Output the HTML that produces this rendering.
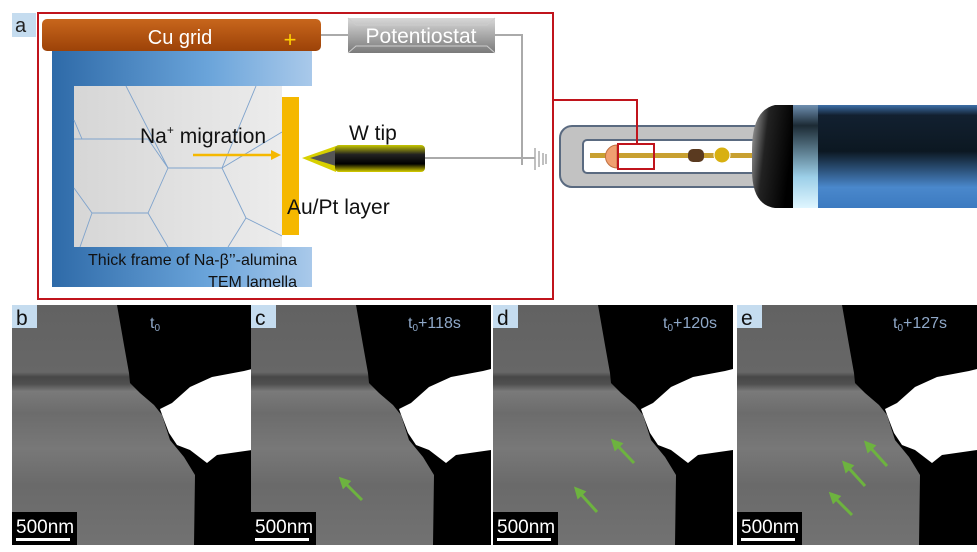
<!DOCTYPE html>
<html><head><meta charset="utf-8"><style>
html,body{margin:0;padding:0;background:#fff;}
svg{display:block;font-family:"Liberation Sans",sans-serif;}
</style></head><body>
<svg width="977" height="552" viewBox="0 0 977 552" xmlns="http://www.w3.org/2000/svg">
<defs>
<linearGradient id="cu" x1="0" y1="0" x2="0" y2="1"><stop offset="0" stop-color="#c8661c"/><stop offset="1" stop-color="#9c4208"/></linearGradient>
<linearGradient id="pot" x1="0" y1="0" x2="0" y2="1"><stop offset="0" stop-color="#d8d8d8"/><stop offset="0.5" stop-color="#a8a8a8"/><stop offset="1" stop-color="#7a7a7a"/></linearGradient>
<linearGradient id="blue" x1="0" y1="0" x2="1" y2="0"><stop offset="0" stop-color="#2e6aa8"/><stop offset="0.6" stop-color="#6aa4da"/><stop offset="1" stop-color="#a9c9ea"/></linearGradient>
<linearGradient id="gray" x1="0" y1="0" x2="1" y2="0"><stop offset="0" stop-color="#d6d6d6"/><stop offset="1" stop-color="#ececec"/></linearGradient>
<linearGradient id="wt" x1="0" y1="0" x2="0" y2="1"><stop offset="0" stop-color="#c8c800"/><stop offset="0.35" stop-color="#222"/><stop offset="0.7" stop-color="#000"/><stop offset="1" stop-color="#d8d000"/></linearGradient>
<linearGradient id="cap" x1="0" y1="0" x2="1" y2="0.3"><stop offset="0" stop-color="#aaa"/><stop offset="0.4" stop-color="#222"/><stop offset="1" stop-color="#000"/></linearGradient>
<linearGradient id="cyl" x1="0" y1="0" x2="0" y2="1"><stop offset="0" stop-color="#3d6fa8"/><stop offset="0.1" stop-color="#122030"/><stop offset="0.45" stop-color="#0c1822"/><stop offset="0.8" stop-color="#4a88cc"/><stop offset="1" stop-color="#3c7ac0"/></linearGradient>
<linearGradient id="band" x1="0" y1="0" x2="0" y2="1"><stop offset="0" stop-color="#6e8fb0"/><stop offset="0.2" stop-color="#1c2a34"/><stop offset="0.7" stop-color="#9ccfe8"/><stop offset="1" stop-color="#e0f6ff"/></linearGradient>
<linearGradient id="spec" x1="0" y1="0" x2="0" y2="1"><stop offset="0" stop-color="#626262"/><stop offset="0.28" stop-color="#676767"/><stop offset="0.3" stop-color="#474747"/><stop offset="0.33" stop-color="#505050"/><stop offset="0.36" stop-color="#7a7a7a"/><stop offset="0.45" stop-color="#6c6c6c"/><stop offset="0.6" stop-color="#787878"/><stop offset="0.75" stop-color="#6a6a6a"/><stop offset="1" stop-color="#727272"/></linearGradient>
<g id="tem">
<rect x="0" y="0" width="240" height="240" fill="#000"/>
<path d="M0 0 L105 0 L112 40 L117 68 L118 78 L128 88 L142 100 L150 110 L158 135 L172 152 L183 170 L182 240 L0 240 Z" fill="url(#spec)"/>
<path d="M148 104 L160 98 L178 82 L200 72 L232 66 L240 64 L240 145 L205 150 L195 158 L178 145 L165 140 L157 128 L152 115 Z" fill="#fff"/>
<rect x="0" y="207" width="65" height="33" fill="#000"/>
<rect x="4" y="233" width="54" height="3" fill="#fff"/>
<text x="4" y="228" font-size="19" fill="#fff">500nm</text>
</g>
<marker id="ga" markerWidth="4" markerHeight="4" refX="2" refY="2" orient="auto" markerUnits="strokeWidth"><path d="M0 0 L4 2 L0 4 Z" fill="#6db33f"/></marker>
</defs>

<!-- panel a -->
<rect x="12" y="13" width="24" height="24" fill="#c5dcef"/>
<text x="15" y="32" font-size="20" fill="#222">a</text>
<rect x="38" y="13" width="515" height="286" fill="none" stroke="#c0141c" stroke-width="2"/>

<rect x="52" y="51" width="260" height="236" fill="url(#blue)"/>
<rect x="282" y="86" width="31" height="161" fill="#fff"/>
<rect x="74" y="86" width="208" height="161" fill="url(#gray)"/>
<g stroke="#7fa3cc" stroke-width="0.9" fill="none">
<path d="M126 86 L168 168 L222 168 L256 86"/>
<path d="M168 168 L148 213 L92 213 L74 188"/>
<path d="M74 139 L82 139 L74 120"/>
<path d="M82 139 L148 139 L168 168"/>
<path d="M148 213 L168 247"/>
<path d="M222 168 L246 218 L282 236"/>
<path d="M246 218 L228 247"/>
<path d="M92 213 L80 247"/>
<path d="M222 168 L282 132"/>
</g>
<rect x="42" y="19" width="279" height="32" rx="5" fill="url(#cu)"/>
<text x="180" y="44" font-size="20" fill="#fff" text-anchor="middle">Cu grid</text>
<text x="290" y="47" font-size="22" fill="#ffd000" text-anchor="middle">+</text>
<polyline points="321,35 348,35" stroke="#aaa" stroke-width="2" fill="none"/>
<rect x="348" y="18" width="147" height="35" fill="url(#pot)"/>
<path d="M348 18 L356 25 L487 25 L495 18 M348 53 L356 46 L487 46 L495 53" stroke="#ccc" fill="none"/>
<text x="421" y="43" font-size="21" fill="#fff" text-anchor="middle">Potentiostat</text>
<polyline points="495,35 522,35 522,165" stroke="#aaa" stroke-width="2" fill="none"/>
<line x1="425" y1="158" x2="535" y2="158" stroke="#aaa" stroke-width="2"/>
<g stroke="#aaa" stroke-width="1.5"><line x1="535" y1="148" x2="535" y2="170"/><line x1="539" y1="151" x2="539" y2="167"/><line x1="543" y1="153" x2="543" y2="165"/><line x1="546" y1="154" x2="546" y2="164"/></g>
<rect x="282" y="97" width="17" height="138" fill="#f5b800"/>
<line x1="193" y1="155" x2="272" y2="155" stroke="#f5b800" stroke-width="2.5"/>
<path d="M271 150 L281 155 L271 160 Z" fill="#f5b800"/>
<text x="140" y="143" font-size="21" fill="#111">Na<tspan font-size="12" dy="-9">+</tspan><tspan dy="9"> migration</tspan></text>
<path d="M302 158 L336 146 L336 172 Z" fill="#d8d000"/>
<path d="M310 158 L336 150 L336 166 Z" fill="#555"/>
<rect x="335" y="145" width="90" height="27" rx="4" fill="url(#wt)"/>
<text x="349" y="140" font-size="21" fill="#111">W tip</text>
<text x="287" y="214" font-size="21" fill="#111">Au/Pt layer</text>
<text x="297" y="265" font-size="16" fill="#111" text-anchor="end">Thick frame of Na-β’’-alumina</text>
<text x="297" y="287" font-size="16" fill="#111" text-anchor="end">TEM lamella</text>

<!-- holder -->
<rect x="560" y="126" width="210" height="61" rx="12" fill="#c2c2c2" stroke="#5a6a80" stroke-width="2"/>
<rect x="583" y="140" width="185" height="33" rx="4" fill="#fff" stroke="#5a6a80" stroke-width="2"/>
<rect x="590" y="153" width="170" height="5" fill="#c8a030"/>
<path d="M617 145 A11 11 0 0 0 617 168 Z" fill="#f0a070" stroke="#c07040"/>
<rect x="688" y="149" width="16" height="13" rx="5" fill="#5a3a20"/>
<circle cx="722" cy="155" r="8" fill="#d8b010" stroke="#fff"/>
<polyline points="553,100 637,100 637,144" stroke="#c0141c" stroke-width="2" fill="none"/>
<rect x="618" y="144" width="36" height="25" fill="none" stroke="#c0141c" stroke-width="2"/>
<path d="M793 105 L775 105 Q752 110 752 150 L752 170 Q752 205 775 208 L793 208 Z" fill="url(#cap)"/>
<rect x="793" y="105" width="25" height="103" fill="url(#band)"/>
<rect x="818" y="105" width="159" height="103" fill="url(#cyl)"/>

<!-- TEM panels -->
<use href="#tem" x="12" y="305"/>
<use href="#tem" x="251" y="305"/>
<use href="#tem" x="493" y="305"/>
<use href="#tem" x="737" y="305"/>
<g fill="#c5dcef"><rect x="12" y="305" width="25" height="23"/><rect x="251" y="305" width="25" height="23"/><rect x="493" y="305" width="25" height="23"/><rect x="737" y="305" width="25" height="23"/></g>
<g font-size="21" fill="#111"><text x="16" y="325">b</text><text x="255" y="325">c</text><text x="497" y="325">d</text><text x="741" y="325">e</text></g>
<g font-size="16" fill="#8fa8c8">
<text x="150" y="328">t<tspan font-size="10" dy="3">0</tspan></text>
<text x="408" y="328">t<tspan font-size="10" dy="3">0</tspan><tspan dy="-3">+118s</tspan></text>
<text x="663" y="328">t<tspan font-size="10" dy="3">0</tspan><tspan dy="-3">+120s</tspan></text>
<text x="893" y="328">t<tspan font-size="10" dy="3">0</tspan><tspan dy="-3">+127s</tspan></text>
</g>
<g stroke="#6db33f" stroke-width="3" marker-end="url(#ga)">
<line x1="362" y1="500" x2="343" y2="481"/>
<line x1="634" y1="463" x2="615" y2="443"/>
<line x1="597" y1="512" x2="578" y2="491"/>
<line x1="887" y1="466" x2="868" y2="445"/>
<line x1="865" y1="486" x2="846" y2="465"/>
<line x1="852" y1="515" x2="833" y2="496"/>
</g>
</svg>
</body></html>
